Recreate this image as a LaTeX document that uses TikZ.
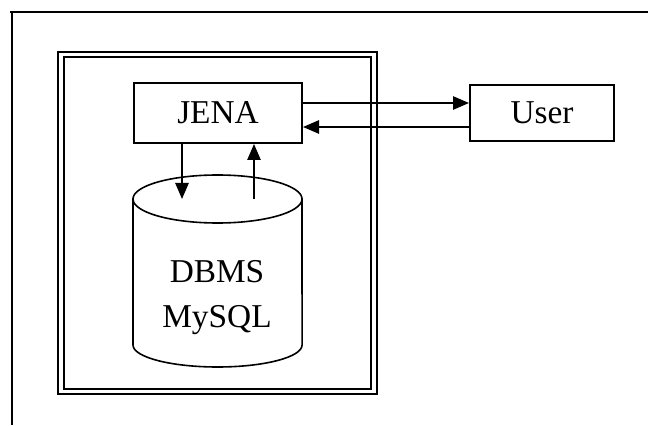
\documentclass[tikz,border=0pt]{standalone}
\usepackage{fontspec}
\setmainfont{Liberation Serif}
\usetikzlibrary{arrows.meta}
\newcommand{\drawthick}{\draw[line width=1.5pt]}
\newcommand{\drawarrow}{\draw[line width=1.2pt,-{Triangle[length=12pt,width=10pt]}]}
\tikzset{box/.style={draw,line width=1.5pt,inner sep=0pt,font=\fontsize{25}{34}\selectfont}}

\begin{document}
\begin{tikzpicture}[x=0.75pt,y=0.75pt]
\useasboundingbox (0,0) rectangle (648,425);
% page frame
\drawthick (10,413)--(648,413);
\drawthick (12,413)--(12,0);
% double frame
\draw[line width=2pt] (58,31) rectangle (377,373);
\draw[line width=1.3pt] (64,36) rectangle (371,368);
\node[box,minimum width=126pt,minimum height=45pt] (jena) at (218,312) {JENA};
\node[box,minimum width=108pt,minimum height=42pt] (user) at (542,312) {User};
% database
\draw[line width=1.2pt] (217.5,226) ellipse[x radius=63.4pt,y radius=18pt];
\draw[line width=1.2pt] (133,226)--(133,80) arc[start angle=180,end angle=360,x radius=63.4pt,y radius=16.5pt]--(302,226);
\node[align=center,font=\fontsize{25}{34}\selectfont] (db) at (217,127.5) {DBMS\\MySQL};
\coordinate (dbin) at (182,226);
\coordinate (dbout) at (254,226);
\drawarrow (jena.south -| dbin)--(dbin);
\drawarrow (dbout)--(jena.south -| dbout);
\drawarrow (jena.east |- 0,322)--(user.west |- 0,322);
\drawarrow (user.west |- 0,298)--(jena.east |- 0,298);
\end{tikzpicture}
\end{document}
